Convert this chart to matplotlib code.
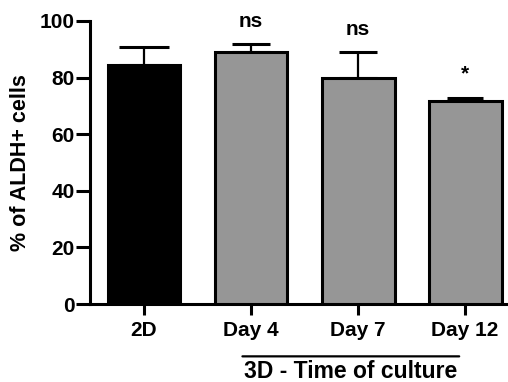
import numpy as np
import matplotlib.pyplot as plt

plt.rcParams['font.family'] = ['Liberation Sans', 'DejaVu Sans']
plt.rcParams['font.weight'] = 'bold'

groups = ['2D', 'Day 4', 'Day 7', 'Day 12']
means = [84.6, 88.9, 79.8, 71.6]
errs = [6.2, 3.0, 9.2, 1.1]
marks = ['', 'ns', 'ns', '*']
colors = ['black', '#969696', '#969696', '#969696']
caps = [18, 13.5, 13.5, 13]

fig = plt.figure(figsize=(5.08, 3.82), dpi=100)
ax = fig.add_axes([90/508, 78/382, 418/508, 283/382])

x = np.arange(len(groups))
ax.bar(x, means, width=0.68, color=colors, edgecolor='black', linewidth=2.2, zorder=3)
for i in range(len(groups)):
    ax.errorbar(x[i], means[i], yerr=[[0], [errs[i]]], fmt='none', ecolor='black',
                elinewidth=1.6, capsize=caps[i], capthick=2.2, zorder=2)
    if marks[i]:
        ax.text(x[i], means[i] + errs[i] + (8 if marks[i] == 'ns' else 8.5), marks[i],
                ha='center', va='center', fontsize=15, fontweight='bold')

ax.set_xlim(-0.505, 3.4)
ax.set_ylim(0, 100)
ax.set_yticks([0, 20, 40, 60, 80, 100])
ax.set_xticks(x)
ax.set_xticklabels(groups)
ax.tick_params(axis='both', width=2.2, length=8, labelsize=15, pad=4)
ax.tick_params(axis='y', length=10, pad=1)
for s in ['top', 'right']:
    ax.spines[s].set_visible(False)
for s in ['left', 'bottom']:
    ax.spines[s].set_linewidth(2.2)
ax.set_ylabel('% of ALDH+ cells', fontsize=15.5, fontweight='bold', labelpad=6)

# group bracket under the 3D bars
ax.annotate('', xy=(0.893, -0.185), xytext=(2.97, -0.185), xycoords=('data', 'axes fraction'),
            textcoords=('data', 'axes fraction'),
            arrowprops=dict(arrowstyle='-', color='black', linewidth=1.6), annotation_clip=False)
ax.text(1.93, -0.237, '3D - Time of culture', transform=ax.get_xaxis_transform(),
        ha='center', va='center', fontsize=16.5, fontweight='bold', clip_on=False)

fig.savefig('out.png', dpi=100)
